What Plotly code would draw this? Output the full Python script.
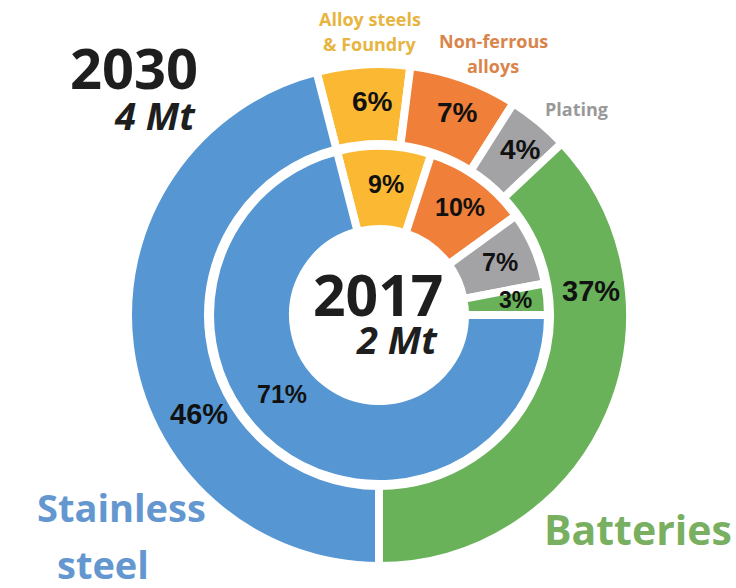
import plotly.graph_objects as go

categories = ["Alloy steels & Foundry", "Non-ferrous alloys", "Plating", "Batteries", "Stainless steel"]
share_2030 = [6, 7, 4, 37, 46]
share_2017 = [9, 10, 7, 3, 71]
slice_colors = ["#FBB832", "#F07F3A", "#A3A3A5", "#6AB25A", "#5697D3"]

W, H = 736, 588
CX, CY = 379, 315

def px(x):
    return x / W

def py(y):
    return 1 - y / H

R_OUT, R_OUT_IN = 251, 171
R_IN, R_IN_IN = 169, 86

fig = go.Figure()
fig.add_trace(go.Pie(
    labels=categories, values=share_2030, sort=False, direction="clockwise",
    rotation=345.6, hole=R_OUT_IN / R_OUT, textinfo="none", hoverinfo="label+percent",
    marker=dict(colors=slice_colors, line=dict(color="white", width=8)),
    domain=dict(x=[px(CX - R_OUT), px(CX + R_OUT)], y=[py(CY + R_OUT), py(CY - R_OUT)]),
    showlegend=False,
))
fig.add_trace(go.Pie(
    labels=categories, values=share_2017, sort=False, direction="clockwise",
    rotation=345.6, hole=R_IN_IN / R_IN, textinfo="none", hoverinfo="label+percent",
    marker=dict(colors=slice_colors, line=dict(color="white", width=8)),
    domain=dict(x=[px(CX - R_IN), px(CX + R_IN)], y=[py(CY + R_IN), py(CY - R_IN)]),
    showlegend=False,
))

pct_font = "Liberation Sans, Arial, sans-serif"
outer_pos = [(372, 101), (457, 112), (520, 150), (591, 291), (199, 414)]
inner_pos = [(386, 184), (460, 207), (500, 262), (515, 300), (282, 394)]
outer_size = [28, 28, 28, 29, 29]
inner_size = [25, 25, 25, 23, 25]

ann = []
for v, (x, y), s in zip(share_2030, outer_pos, outer_size):
    ann.append(dict(x=px(x), y=py(y), text=f"<b>{v}%</b>", showarrow=False,
                    xanchor="center", yanchor="middle",
                    font=dict(family=pct_font, size=s, color="#111111")))
for v, (x, y), s in zip(share_2017, inner_pos, inner_size):
    ann.append(dict(x=px(x), y=py(y), text=f"<b>{v}%</b>", showarrow=False,
                    xanchor="center", yanchor="middle",
                    font=dict(family=pct_font, size=s, color="#111111")))

title_font = "Open Sans, Noto Sans, sans-serif"
def t(x, y, text, size, color, xa="center", italic=False):
    return dict(x=px(x), y=py(y), text=text, showarrow=False, xanchor=xa, yanchor="middle",
                font=dict(family=title_font, size=size, color=color, weight=700,
                          style="italic" if italic else "normal"))

ann += [
    t(200, 67, "2030", 56, "#1E1E1E", xa="right"),
    t(198, 115, "4 Mt", 38, "#1E1E1E", xa="right", italic=True),
    t(378, 294, "2017", 57, "#1E1E1E"),
    t(440, 339, "2 Mt", 38, "#1E1E1E", xa="right", italic=True),
    t(370, 19, "Alloy steels", 18, "#E8B440"),
    t(370, 44, "&amp; Foundry", 18, "#E8B440"),
    t(493, 41, "Non-ferrous", 18, "#D9844A"),
    t(493, 66, "alloys", 18, "#D9844A"),
    t(576, 109, "Plating", 18, "#999999"),
    t(121, 507, "Stainless", 38, "#6497D0"),
    t(103, 564, "steel", 38, "#6497D0"),
    t(638, 529, "Batteries", 41, "#79AF60"),
]

fig.update_layout(
    width=W, height=H, margin=dict(l=0, r=0, t=0, b=0),
    paper_bgcolor="white", plot_bgcolor="white",
    annotations=ann,
)
fig.write_html("out.html")
